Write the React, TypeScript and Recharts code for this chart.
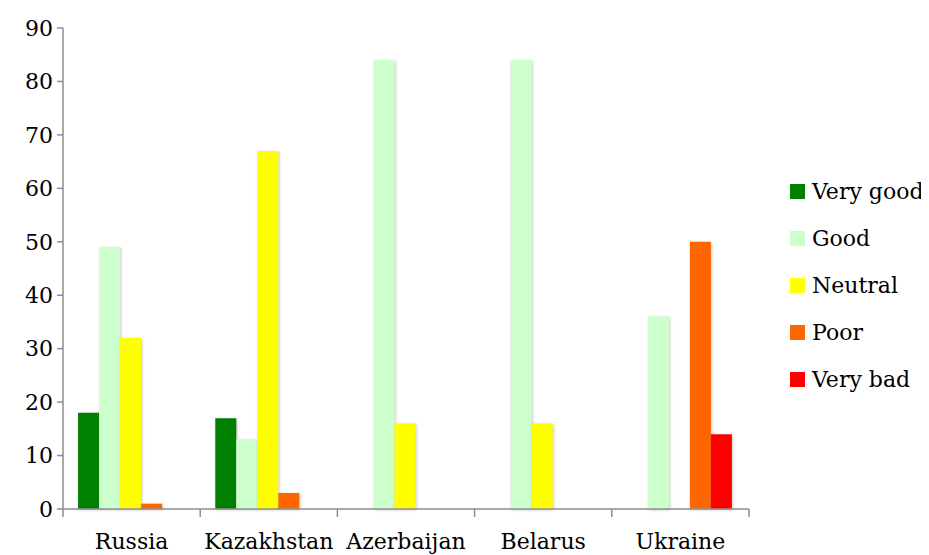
import React from "react";
import { BarChart, Bar, XAxis, YAxis, Legend, Rectangle } from "recharts";

const countries = ["Russia", "Kazakhstan", "Azerbaijan", "Belarus", "Ukraine"];
const veryGood = [18, 17, 0, 0, 0];
const good = [49, 13, 84, 84, 36];
const neutral = [32, 67, 16, 16, 0];
const poor = [1, 3, 0, 0, 50];
const veryBad = [0, 0, 0, 0, 14];
const yTicks = [0, 10, 20, 30, 40, 50, 60, 70, 80, 90];

const seriesNames = ["Very good", "Good", "Neutral", "Poor", "Very bad"];
const seriesKeys = ["vg", "g", "n", "p", "vb"];
const seriesColors = ["#008000", "#CCFFCC", "#FFFF00", "#FF6600", "#FF0000"];
const seriesValues = [veryGood, good, neutral, poor, veryBad];

const data = countries.map((c, i) => {
  const row: any = { name: c };
  seriesKeys.forEach((k, j) => {
    row[k] = seriesValues[j][i];
  });
  return row;
});

const FONT = "'DejaVu Serif', serif";
const AXIS = "#8c8c8c";

const LegendContent = () => (
  <div style={{ fontFamily: FONT, fontSize: 22, color: "#000" }}>
    {seriesNames.map((n, i) => (
      <div key={n} style={{ display: "flex", alignItems: "center", height: 47 }}>
        <span style={{ width: 15, height: 15, background: seriesColors[i], display: "inline-block", marginRight: 7 }} />
        <span>{n}</span>
      </div>
    ))}
  </div>
);

const CatTick = (props: any) => {
  const { x, y, payload, index, visibleTicksCount } = props;
  const half = payload && payload.offset ? payload.offset : 0;
  const last = index === (visibleTicksCount ?? countries.length) - 1;
  return (
    <g>
      <line x1={x - half} x2={x - half} y1={y} y2={y + 8} stroke={AXIS} strokeWidth={1.5} />
      {last && <line x1={x + half} x2={x + half} y1={y} y2={y + 8} stroke={AXIS} strokeWidth={1.5} />}
      <text x={x} y={y + 24} dy="0.71em" textAnchor="middle" fill="#000" fontSize={22} fontFamily={FONT}>
        {payload.value}
      </text>
    </g>
  );
};

const ShadowBar = (props: any) => (
  <Rectangle {...props} style={{ filter: "drop-shadow(1.5px 1px 1.5px rgba(0,0,0,0.22))" }} />
);

export default function App() {
  return (
    <div style={{ width: 921, height: 547, background: "#fff" }}>
      <BarChart
        width={921}
        height={547}
        data={data}
        margin={{ top: 20, right: 180, bottom: 0, left: 0 }}
        barCategoryGap="11%"
        barGap={0}
      >
        <XAxis
          dataKey="name"
          height={46}
          tickLine={false}
          tickSize={0}
          tickMargin={0}
          axisLine={{ stroke: AXIS, strokeWidth: 1.5 }}
          tick={<CatTick />}
          interval={0}
        />
        <YAxis
          width={55}
          domain={[0, 90]}
          ticks={yTicks}
          tickSize={6}
          tickMargin={4}
          axisLine={{ stroke: AXIS, strokeWidth: 1.5 }}
          tickLine={{ stroke: AXIS, strokeWidth: 1.5 }}
          tick={{ fill: "#000", fontSize: 22, fontFamily: FONT }}
        />
        <Legend
          layout="horizontal"
          verticalAlign="middle"
          align="center"
          content={<LegendContent />}
          wrapperStyle={{ position: "absolute", left: 782, top: 160, width: 140 }}
        />
        {seriesKeys.map((k, i) => (
          <Bar
            key={k}
            dataKey={k}
            name={seriesNames[i]}
            fill={seriesColors[i]}
            shape={<ShadowBar />}
            isAnimationActive={false}
          />
        ))}
      </BarChart>
    </div>
  );
}
